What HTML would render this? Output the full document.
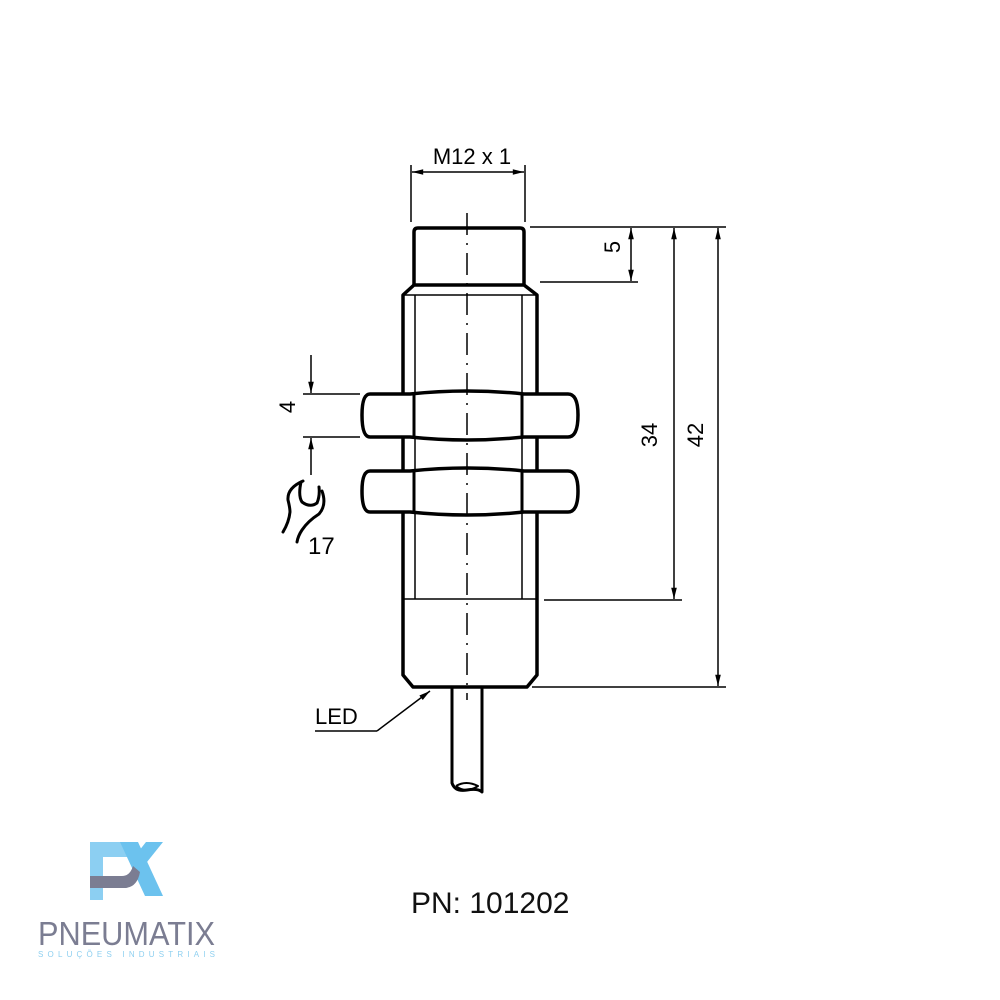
<!DOCTYPE html>
<html><head><meta charset="utf-8"><style>
html,body{margin:0;padding:0;background:#fff;width:1000px;height:1000px;overflow:hidden}
</style></head><body>
<svg width="1000" height="1000" viewBox="0 0 1000 1000" xmlns="http://www.w3.org/2000/svg">
<defs>
<marker id="a" viewBox="0 0 14 10" refX="14" refY="5" markerWidth="14" markerHeight="8" markerUnits="userSpaceOnUse" orient="auto"><path d="M0,1.5 L14,5 L0,8.5z" fill="#000"/></marker>
</defs>
<g fill="none" stroke="#000" stroke-linejoin="round">
<path d="M414,285 L414,232 Q414,228 418,228 L520,228 Q524,228 524,232 L524,285" stroke-width="3.5"/>
<path d="M414,285 L524,285 L537,295 L537,675 L527,687 L413,687 L403,675 L403,295 Z" stroke-width="3.5"/>
<line x1="403" y1="295" x2="537" y2="295" stroke-width="1.5"/>
<line x1="415" y1="295" x2="415" y2="599" stroke-width="1.5"/>
<line x1="522" y1="295" x2="522" y2="599" stroke-width="1.5"/>
<line x1="403" y1="599" x2="537" y2="599" stroke-width="1.5"/>
<g stroke-width="3.5" fill="#fff">
<path d="M370,394 L410,394 Q467,388 524,394 L568,394 Q578,394 578,415 Q578,437 568,437 L524,437 Q467,443 410,437 L370,437 Q362,437 362,415 Q362,394 370,394 Z"/>
<path d="M370,471 L410,471 Q467,465 524,471 L568,471 Q578,471 578,491 Q578,512 568,512 L524,512 Q467,518 410,512 L370,512 Q362,512 362,491 Q362,471 370,471 Z"/>
</g>
<line x1="414" y1="394" x2="414" y2="437" stroke-width="3"/>
<line x1="522" y1="394" x2="522" y2="437" stroke-width="3"/>
<line x1="414" y1="471" x2="414" y2="512" stroke-width="3"/>
<line x1="522" y1="471" x2="522" y2="512" stroke-width="3"/>
<path d="M452,687 L452,783 Q455,792 467,790 Q478,788 482,792 L482,687" stroke-width="3"/>
<path d="M456,786 Q466,780 478,786 Q466,794 456,786" stroke-width="2"/>
<line x1="467" y1="213" x2="467" y2="700" stroke-width="1.5" stroke-dasharray="22,8,2,8"/>
<line x1="411" y1="165" x2="411" y2="222" stroke-width="1.5"/>
<line x1="525" y1="165" x2="525" y2="222" stroke-width="1.5"/>
<line x1="440" y1="172" x2="412" y2="172" stroke-width="1.5" marker-end="url(#a)"/>
<line x1="440" y1="172" x2="524" y2="172" stroke-width="1.5" marker-end="url(#a)"/>
<line x1="530" y1="227" x2="726" y2="227" stroke-width="1.5"/>
<line x1="540" y1="282" x2="638" y2="282" stroke-width="1.5"/>
<line x1="544" y1="600" x2="682" y2="600" stroke-width="1.5"/>
<line x1="532" y1="687" x2="726" y2="687" stroke-width="1.5"/>
<line x1="631" y1="255" x2="631" y2="228" stroke-width="1.5" marker-end="url(#a)"/>
<line x1="631" y1="255" x2="631" y2="281" stroke-width="1.5" marker-end="url(#a)"/>
<line x1="674" y1="400" x2="674" y2="228" stroke-width="1.5" marker-end="url(#a)"/>
<line x1="674" y1="400" x2="674" y2="599" stroke-width="1.5" marker-end="url(#a)"/>
<line x1="718" y1="400" x2="718" y2="228" stroke-width="1.5" marker-end="url(#a)"/>
<line x1="718" y1="400" x2="718" y2="686" stroke-width="1.5" marker-end="url(#a)"/>
<line x1="303" y1="394" x2="360" y2="394" stroke-width="1.5"/>
<line x1="303" y1="437" x2="360" y2="437" stroke-width="1.5"/>
<line x1="311" y1="355" x2="311" y2="393" stroke-width="1.5" marker-end="url(#a)"/>
<line x1="311" y1="475" x2="311" y2="438" stroke-width="1.5" marker-end="url(#a)"/>
<path d="M303,481 Q287,488 288,500 Q290,508 290,512 Q289,522 283,532" stroke-width="3" stroke-linecap="round"/>
<path d="M301,482 Q298,496 302,502 Q310,508 317,503 Q320,496 319,487" stroke-width="3" stroke-linecap="round"/>
<path d="M322,491 Q327,505 319,514 Q308,521 302,530 Q298,536 297,542" stroke-width="3" stroke-linecap="round"/>
<line x1="315" y1="731" x2="377" y2="731" stroke-width="1.5"/>
<line x1="377" y1="731" x2="430" y2="691" stroke-width="1.5" marker-end="url(#a)"/>
</g>
<g font-family="Liberation Sans, sans-serif" fill="#000">
<text x="472" y="164" font-size="22" text-anchor="middle">M12 x 1</text>
<text x="628" y="255" font-size="22" text-anchor="middle" transform="rotate(-90 620 255)">5</text>
<text x="665" y="443" font-size="22" text-anchor="middle" transform="rotate(-90 657 443)">34</text>
<text x="711" y="443" font-size="22" text-anchor="middle" transform="rotate(-90 703 443)">42</text>
<text x="303" y="415" font-size="22" text-anchor="middle" transform="rotate(-90 295 415)">4</text>
<text x="308" y="554" font-size="24">17</text>
<text x="315" y="724" font-size="22">LED</text>
</g>
<text x="411" y="913" font-family="Liberation Sans, sans-serif" font-size="30" fill="#111">PN: 101202</text>
<!-- logo -->
<rect x="90" y="842" width="44" height="15" fill="#8ccff2"/>
<rect x="90" y="842" width="13" height="58" fill="#8ccff2"/>
<polygon points="120,842 138,842 163,896 145,896" fill="#6cc2ee"/>
<polygon points="146,842 163,842 143,867 135,856" fill="#6cc2ee"/>
<path d="M90,876 L122,876 Q130,876 133,866 L140,872 Q137,888 124,888 L90,888 Z" fill="#7b7d92"/>
<text x="38" y="945" font-family="Liberation Sans, sans-serif" font-size="33" fill="#7b7d92" textLength="177" lengthAdjust="spacingAndGlyphs">PNEUMATIX</text>
<text x="38" y="957" font-family="Liberation Sans, sans-serif" font-size="8" fill="#8fd0f0" textLength="177" lengthAdjust="spacing">SOLUÇÕES INDUSTRIAIS</text>
</svg>
</body></html>
